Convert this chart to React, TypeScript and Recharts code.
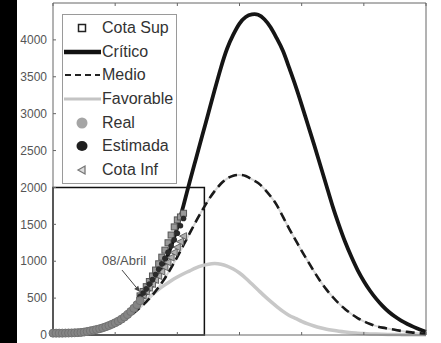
import { ComposedChart, Line, Scatter, XAxis, YAxis, ReferenceArea, ReferenceLine } from "recharts"

// model curves, sampled every 2 days
const days = [
  0, 2, 4, 6, 8, 10, 12, 14, 16, 18, 20, 22, 24, 26, 28, 30, 32, 34, 36, 38, 40,
  42, 44, 46, 48, 50, 52, 54, 56, 58, 60, 62, 64, 66, 68, 70, 72, 74, 76, 78, 80,
  82, 84, 86, 88, 90, 92, 94, 96, 98, 100, 102, 104, 106, 108, 110, 112, 114, 116, 118, 120,
]
const critico = [
  6, 9, 13, 18, 26, 37, 52, 72, 100, 135, 180, 235, 300, 380, 460, 560, 670, 800, 980, 1200, 1460,
  1760, 2080, 2390, 2700, 3010, 3320, 3620, 3880, 4070, 4220, 4310, 4345, 4340, 4280, 4170, 4020, 3850, 3620, 3380, 3120,
  2850, 2580, 2300, 2020, 1740, 1490, 1260, 1060, 880, 730, 600, 490, 395, 315, 250, 195, 150, 110, 75, 45,
]
const medio = [
  5, 7, 10, 14, 20, 28, 40, 56, 78, 105, 140, 185, 240, 300, 370, 450, 540, 650, 770, 910, 1060,
  1220, 1380, 1540, 1690, 1830, 1950, 2050, 2120, 2160, 2170, 2155, 2110, 2060, 1980, 1880, 1760, 1600, 1440, 1290, 1140,
  1000, 860, 730, 615, 515, 425, 350, 285, 230, 185, 150, 120, 100, 85, 70, 55, 42, 32, 22, 15,
]
const favorable = [
  5, 7, 10, 14, 20, 28, 40, 55, 75, 100, 135, 180, 240, 310, 390, 470, 550, 620, 680, 735, 785,
  830, 870, 910, 940, 960, 968, 960, 935, 895, 840, 770, 690, 610, 530, 455, 385, 320, 265, 225, 185,
  150, 122, 98, 78, 63, 50, 40, 32, 25, 19, 15, 12, 10, 8, 6, 5, 4, 3, 2, 2,
]

// observed cases
const realDays = [0, 1, 2, 3, 4, 5, 6, 7, 8, 9, 10, 11, 12, 13, 14, 15, 16, 17, 18, 19, 20, 21, 22, 23, 24, 25, 26, 27, 28]
const realValues = [25, 25, 25, 25, 26, 27, 28, 30, 32, 35, 40, 48, 56, 65, 75, 85, 97, 112, 128, 146, 166, 188, 214, 244, 278, 318, 362, 410, 465]

// estimates after 08/Abril
const estDays = [28, 29, 30, 31, 32, 33, 34, 35, 36, 37, 38, 39, 40, 41, 42]
const estimada = [520, 570, 625, 690, 750, 820, 890, 965, 1040, 1120, 1205, 1290, 1380, 1480, 1580]
const cotaSup = [530, 590, 655, 725, 800, 880, 965, 1055, 1150, 1250, 1355, 1465, 1560, 1600, 1650]
const cotaInf = [500, 540, 590, 640, 690, 745, 800, 860, 920, 985, 1050, 1120, 1190, 1265, 1340]

const xTicks = [0, 20, 40, 60, 80, 100, 120]
const yTicks = [0, 500, 1000, 1500, 2000, 2500, 3000, 3500, 4000]

const FONT = '"Liberation Sans", Arial, sans-serif'
const AXIS = "#666"

const modelRows = days.map((d, i) => ({ day: d, critico: critico[i], medio: medio[i], favorable: favorable[i] }))
const realRows = realDays.map((d, i) => ({ day: d, v: realValues[i] }))
const estRows = estDays.map((d, i) => ({ day: d, v: estimada[i] }))
const supRows = estDays.map((d, i) => ({ day: d, v: cotaSup[i] }))
const infRows = estDays.map((d, i) => ({ day: d, v: cotaInf[i] }))

const noLabel = () => ""

function ArrowNote(props: any) {
  const { x1, y1, x2, y2 } = props
  const a = Math.atan2(y2 - y1, x2 - x1)
  const L = 6
  const W = 2.6
  const bx = x2 - L * Math.cos(a)
  const by = y2 - L * Math.sin(a)
  const pts = [
    `${x2},${y2}`,
    `${bx + W * Math.sin(a)},${by - W * Math.cos(a)}`,
    `${bx - W * Math.sin(a)},${by + W * Math.cos(a)}`,
  ].join(" ")
  return (
    <g>
      <line x1={x1} y1={y1} x2={bx} y2={by} stroke="#444" strokeWidth={1} />
      <polygon points={pts} fill="#444" />
      <text x={x1 + 2} y={y1 - 5} textAnchor="middle" fontSize={13} fill="#555" fontFamily={FONT}>
        08/Abril
      </text>
    </g>
  )
}

const legendItems = [
  { name: "Cota Sup", sym: <rect x={15.5} y={6.5} width={7} height={7} fill="#fff" stroke="#222" strokeWidth={1.5} /> },
  { name: "Crítico", sym: <line x1={1} x2={38} y1={10} y2={10} stroke="#111" strokeWidth={4.5} /> },
  { name: "Medio", sym: <line x1={2} x2={37} y1={10} y2={10} stroke="#222" strokeWidth={2} strokeDasharray="6 4" /> },
  { name: "Favorable", sym: <line x1={1} x2={38} y1={10} y2={10} stroke="#c4c4c4" strokeWidth={3} /> },
  { name: "Real", sym: <circle cx={19} cy={10} r={5.5} fill="#a5a5a5" /> },
  { name: "Estimada", sym: <ellipse cx={19} cy={10} rx={5.5} ry={5} fill="#1f1f1f" /> },
  { name: "Cota Inf", sym: <polygon points="15,10 22,6 22,14" fill="#ddd" stroke="#777" strokeWidth={1.3} /> },
]

function ChartLegend() {
  return (
    <div
      style={{
        position: "absolute",
        left: 62,
        top: 14,
        width: 115,
        height: 170,
        boxSizing: "border-box",
        border: "1px solid #9a9a9a",
        background: "#fff",
        paddingTop: 1,
        fontFamily: FONT,
        fontSize: 16,
        color: "#333",
      }}
    >
      {legendItems.map((it) => (
        <div key={it.name} style={{ display: "flex", alignItems: "center", height: 23.7 }}>
          <svg width={38} height={20} style={{ display: "block" }}>
            {it.sym}
          </svg>
          <span style={{ marginLeft: 1, whiteSpace: "nowrap" }}>{it.name}</span>
        </div>
      ))}
    </div>
  )
}

export default function App() {
  return (
    <div style={{ position: "absolute", left: 0, top: 0, width: 441, height: 343, background: "#fff", overflow: "hidden" }}>
      <div style={{ position: "absolute", left: 0, top: 0, width: 17, height: 343, background: "#000" }} />
      <ComposedChart width={441} height={343} data={modelRows} margin={{ top: 2, right: 14, bottom: 7, left: 0 }}>
        <XAxis
          dataKey="day"
          type="number"
          domain={[0, 120]}
          ticks={xTicks}
          height={1}
          tickSize={-3}
          tickFormatter={noLabel}
          stroke={AXIS}
        />
        <XAxis
          xAxisId="top"
          orientation="top"
          dataKey="day"
          type="number"
          domain={[0, 120]}
          ticks={xTicks}
          height={1}
          tickSize={-3}
          tickFormatter={noLabel}
          stroke={AXIS}
        />
        <YAxis
          type="number"
          domain={[0, 4500]}
          ticks={yTicks}
          width={53}
          tickSize={-3}
          tickMargin={9}
          stroke={AXIS}
          tick={{ fill: "#555", fontSize: 12, fontFamily: FONT }}
        />
        <YAxis
          yAxisId="right"
          orientation="right"
          type="number"
          domain={[0, 4500]}
          ticks={yTicks}
          width={1}
          tickSize={-3}
          tickFormatter={noLabel}
          stroke={AXIS}
        />
        <ReferenceArea x1={0} x2={48.7} y1={0} y2={2000} fill="none" stroke="#111" strokeWidth={1.5} fillOpacity={0} />
        <Line type="natural" dataKey="favorable" stroke="#c8c8c8" strokeWidth={3.5} dot={false} isAnimationActive={false} />
        <Line type="natural" dataKey="medio" stroke="#d6d6d6" strokeWidth={2} dot={false} isAnimationActive={false} />
        <Line
          type="natural"
          dataKey="medio"
          stroke="#1a1a1a"
          strokeWidth={2.6}
          strokeDasharray="9 5"
          dot={false}
          isAnimationActive={false}
        />
        <Scatter
          data={infRows}
          dataKey="v"
          isAnimationActive={false}
          shape={(p: any) => (
            <polygon
              points={`${p.cx - 4},${p.cy} ${p.cx + 3},${p.cy - 3.5} ${p.cx + 3},${p.cy + 3.5}`}
              fill="#b0b0b0"
              stroke="#666"
              strokeWidth={1}
            />
          )}
        />
        <Scatter
          data={supRows}
          dataKey="v"
          isAnimationActive={false}
          shape={(p: any) => (
            <rect x={p.cx - 3} y={p.cy - 3} width={6} height={6} fill="#999" stroke="#555" strokeWidth={1} />
          )}
        />
        <Scatter
          data={estRows}
          dataKey="v"
          isAnimationActive={false}
          shape={(p: any) => <circle cx={p.cx} cy={p.cy} r={2.8} fill="#2a2a2a" />}
        />
        <Line type="natural" dataKey="critico" stroke="#151515" strokeWidth={3.8} dot={false} isAnimationActive={false} />
        <Scatter
          data={realRows}
          dataKey="v"
          isAnimationActive={false}
          shape={(p: any) => <circle cx={p.cx} cy={p.cy} r={4} fill="#858585" stroke="#737373" strokeWidth={1} />}
        />
        <ReferenceLine
          segment={[
            { x: 22.2, y: 880 },
            { x: 28, y: 583 },
          ]}
          shape={ArrowNote}
        />
      </ComposedChart>
      <ChartLegend />
    </div>
  )
}
